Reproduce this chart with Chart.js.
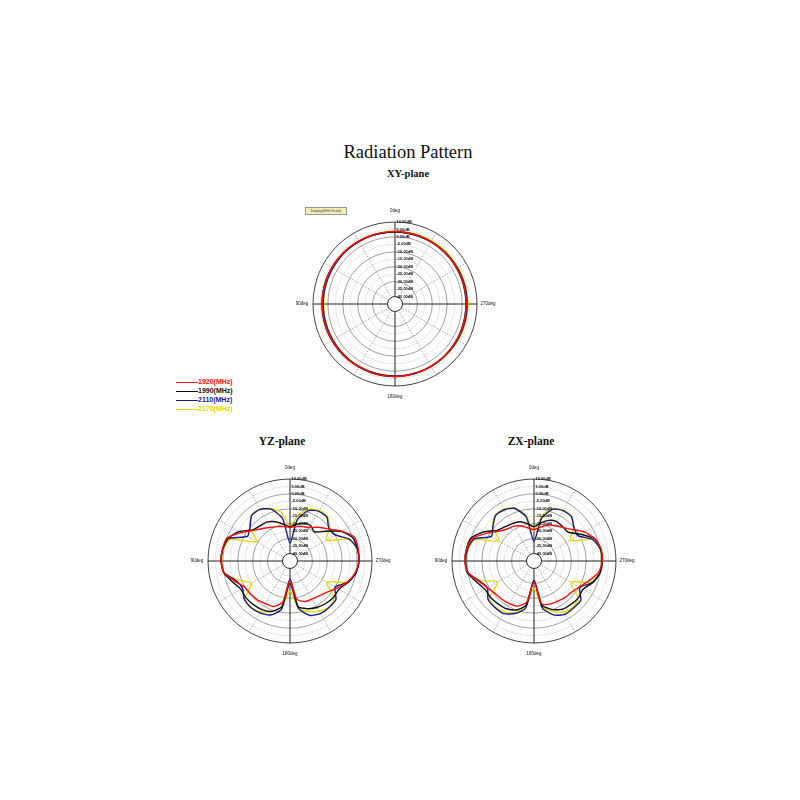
<!DOCTYPE html>
<html lang="en">
<head>
<meta charset="UTF-8">
<title>Radiation Pattern</title>
<script src="https://cdn.jsdelivr.net/npm/chart.js"></script>
<style>
body { margin: 0; background: #fff; }
#page { position: relative; width: 800px; height: 800px; overflow: hidden; }
.t { position: absolute; font-family: "Liberation Serif", serif; color: #111; white-space: nowrap; transform: translate(-50%, -50%); }
canvas { position: absolute; }
.leg { position: absolute; left: 176px; font: bold 7px "Liberation Sans", sans-serif; white-space: nowrap; }
.leg span { display: inline-block; width: 22px; height: 0; border-top: 1.5px solid; vertical-align: middle; margin-right: 0; }
#tag { position: absolute; left: 305px; top: 207px; width: 40px; height: 6px; background: #f3eeb8; border: 1px solid #999;
       font: 3.5px "Liberation Sans", sans-serif; line-height: 6px; text-align: center; color: #333; overflow: hidden; }
</style>
</head>
<body>
<div id="page">
  <div class="t" style="left:408px;top:152px;font-size:18.5px;">Radiation Pattern</div>
  <div class="t" style="left:408px;top:173px;font-size:10.5px;font-weight:bold;">XY-plane</div>
  <div class="t" style="left:282px;top:441px;font-size:11.5px;font-weight:bold;">YZ-plane</div>
  <div class="t" style="left:531px;top:441px;font-size:11.5px;font-weight:bold;">ZX-plane</div>
  <div id="tag">Display(With Scale)</div>
  <canvas id="xy" width="240" height="240" style="left:275px;top:184px;"></canvas>
  <canvas id="yz" width="240" height="240" style="left:170px;top:441px;"></canvas>
  <canvas id="zx" width="240" height="240" style="left:414px;top:441px;"></canvas>
  <div id="legend"></div>
</div>
<script>
// angles in degrees, counted counter-clockwise from the top (0deg top, 90deg left)
const angles = [0,10,20,30,40,50,60,70,80,90,100,110,120,130,140,150,160,170,
                180,190,200,210,220,230,240,250,260,270,280,290,300,310,320,330,340,350];
const tickDb = [10,5,0,-5,-10,-15,-20,-25,-30,-35,-40];
const degLabels = ['0deg', '90deg', '180deg', '270deg'];
const freqs = ['1920(MHz)', '1990(MHz)', '2110(MHz)', '2170(MHz)'];
const lineColors = ['#ff1010', '#111111', '#1a1a8c', '#e8d800'];

// XY-plane (dB)
const xy1920 = [3.6,3.6,3.7,3.7,3.8,3.8,3.8,3.8,3.8,3.8,3.8,3.8,3.7,3.7,3.7,3.6,3.6,3.6,
                3.6,3.5,3.4,3.3,3.2,3.1,3.0,2.9,2.8,2.8,2.8,2.9,3.0,3.1,3.2,3.3,3.4,3.5];
const xy1990 = [3.3,3.4,3.5,3.6,3.7,3.8,3.9,4.0,4.0,4.0,4.0,4.0,3.9,3.9,3.8,3.8,3.7,3.7,
                3.7,3.6,3.5,3.3,3.2,3.0,2.9,2.7,2.6,2.6,2.6,2.7,2.8,2.9,3.0,3.1,3.2,3.2];
const xy2110 = [3.4,3.4,3.4,3.3,3.3,3.3,3.2,3.2,3.2,3.2,3.2,3.2,3.2,3.3,3.3,3.3,3.3,3.3,
                3.3,3.3,3.3,3.3,3.3,3.4,3.4,3.4,3.4,3.4,3.4,3.4,3.4,3.4,3.4,3.4,3.4,3.4];
const xy2170 = [3.8,3.7,3.6,3.5,3.4,3.3,3.1,3.0,2.9,2.9,2.9,2.9,3.0,3.0,3.1,3.1,3.2,3.2,
                3.2,3.3,3.3,3.4,3.5,3.6,3.7,3.8,3.9,3.9,3.9,3.9,3.9,3.9,3.9,3.9,3.9,3.8];

// YZ-plane (dB)
const yz1920 = [-22.5,-21.5,-20.5,-19,-16.5,-13,-7,0,1,1.3,0,-5.5,-10,-10.5,-11,-12,-12.5,-17,
                -32,-19,-16,-15.5,-14.5,-12.5,-8.5,-4,-0.5,1.3,1.5,1.2,-5,-11.5,-15.5,-19,-20.5,-21.5];
const yz1990 = [-22,-20,-17,-14.7,-14,-12.5,-5.5,-0.8,0.8,1.2,0.2,-4,-7,-6.5,-6.8,-7.4,-9,-14,
                -30,-14,-11,-9,-7.8,-7,-7,-3.5,0,1.3,1,0,-5.3,-14,-19.5,-17.5,-18,-20];
const yz2110 = [-33,-16,-8,-5,-5,-10,-12,-1,0.8,1.2,0,-6.5,-8.3,-5,-4.3,-4.8,-6.5,-12,
                -33,-13,-6.2,-4.3,-4.3,-4.8,-10,-3.5,0,1.3,1,-2.5,-10,-11,-6.5,-6.5,-9,-17];
const yz2170 = [-22,-12,-7.5,-4.8,-5,-9.5,-19,-2.5,0.5,0.8,0.2,-8,-15,-5.5,-4,-5.5,-9,-14,
                -25,-13,-9,-6,-4.4,-6.5,-16.5,-4,-0.5,1.3,1,-2.5,-17,-10,-6,-5.8,-8,-14];

// ZX-plane (dB)
const zx1920 = [-24,-22.5,-20,-18,-17,-14,-8,-1,1,1.3,0,-5.5,-9,-11,-11.5,-12,-12.8,-17,
                -31,-16,-14.2,-13.8,-13,-12.3,-10,-6,-1,0.8,0.8,-1.5,-6,-12,-15.5,-17.5,-19.5,-22];
const zx1990 = [-22,-19.5,-17,-16,-15,-13,-6,0,1,1.3,0.5,-4,-7,-7,-7.5,-8,-10,-15,
                -32,-15,-10.5,-7.5,-6.8,-6.3,-7,-3,0,0.8,0.5,-1.5,-9,-15,-15,-14.5,-16,-19];
const zx2110 = [-32,-15,-7.5,-5.3,-5,-9,-12,-2,0.3,0.8,0,-6,-9,-4.8,-4.3,-4.3,-7.5,-13,
                -32,-13,-6.5,-3.6,-3.8,-4,-9.5,-3,0,0.6,0.3,-3,-11,-10,-6,-6,-8,-16];
const zx2170 = [-25,-14,-7,-4.8,-4.6,-8.5,-18,-3,0,0.6,0,-7,-17,-6,-4.4,-5.5,-8,-15,
                -27,-14,-9,-5.5,-4.4,-6.5,-16.5,-4,-0.5,0.5,0.3,-3,-17,-10,-6,-5.6,-7.5,-14];

const n = angles.length;
// chart.js runs clockwise, the plot runs counter-clockwise
const order = angles.map((a, i) => (n - i) % n);

const decor = {
  id: 'decor',
  afterDraw(chart) {
    const s = chart.scales.r;
    const c = chart.ctx;
    const xc = s.xCenter, yc = s.yCenter;
    const rIn = s.getDistanceFromCenterForValue(-40);
    c.save();
    c.fillStyle = '#fff';
    c.beginPath();
    c.arc(xc, yc, rIn, 0, Math.PI * 2);
    c.fill();
    c.strokeStyle = '#333';
    c.lineWidth = 1;
    c.stroke();

    c.fillStyle = '#111';
    c.font = 'bold 4px "Liberation Sans"';
    c.textAlign = 'left';
    c.textBaseline = 'middle';
    tickDb.forEach(v => {
      c.fillText(v.toFixed(2) + 'dB', xc + 1.5, yc - s.getDistanceFromCenterForValue(v));
    });

    const R = s.drawingArea + 11;
    c.font = '4.5px "Liberation Sans"';
    c.textAlign = 'center';
    c.fillText(degLabels[0], xc, yc - R);
    c.fillText(degLabels[1], xc - R, yc);
    c.fillText(degLabels[2], xc, yc + R);
    c.fillText(degLabels[3], xc + R, yc);
    c.restore();
  }
};

function makeChart(id, series) {
  return new Chart(document.getElementById(id), {
    type: 'radar',
    data: {
      labels: order.map(k => angles[k] + 'deg'),
      datasets: series.map((arr, j) => ({
        label: freqs[j],
        data: order.map(k => arr[k]),
        borderColor: lineColors[j],
        borderWidth: 1.4,
        fill: false,
        pointRadius: 0,
        tension: 0.2
      }))
    },
    options: {
      responsive: false,
      animation: false,
      layout: { padding: 38 },
      plugins: { legend: { display: false }, tooltip: { enabled: false } },
      scales: {
        r: {
          min: -45,
          max: 10,
          ticks: { stepSize: 5, display: false },
          pointLabels: { display: false },
          grid: {
            circular: true,
            color: ctx => {
              const v = ctx.tick.value;
              if (v === 10) return '#444';
              return v % 10 === 0 ? '#888' : '#b0b0b0';
            },
            lineWidth: ctx => ctx.tick.value === 10 ? 1 : 0.8
          },
          border: {
            dash: ctx => (ctx.tick && ctx.tick.value % 10 !== 0) ? [1, 1.5] : []
          },
          angleLines: {
            color: ctx => angles[order[ctx.index]] % 90 === 0 ? '#222' : '#aaa',
            lineWidth: ctx => angles[order[ctx.index]] % 30 === 0 ? 1 : 0,
            borderDash: ctx => angles[order[ctx.index]] % 90 === 0 ? [] : [1.5, 1.5]
          }
        }
      }
    },
    plugins: [decor]
  });
}

makeChart('xy', [xy1920, xy1990, xy2110, xy2170]);
makeChart('yz', [yz1920, yz1990, yz2110, yz2170]);
makeChart('zx', [zx1920, zx1990, zx2110, zx2170]);

const legend = document.getElementById('legend');
freqs.forEach((f, j) => {
  const d = document.createElement('div');
  d.className = 'leg';
  d.style.top = (378 + j * 9) + 'px';
  d.style.color = lineColors[j];
  d.innerHTML = '<span></span>' + f;
  legend.appendChild(d);
});
</script>
</body>
</html>
